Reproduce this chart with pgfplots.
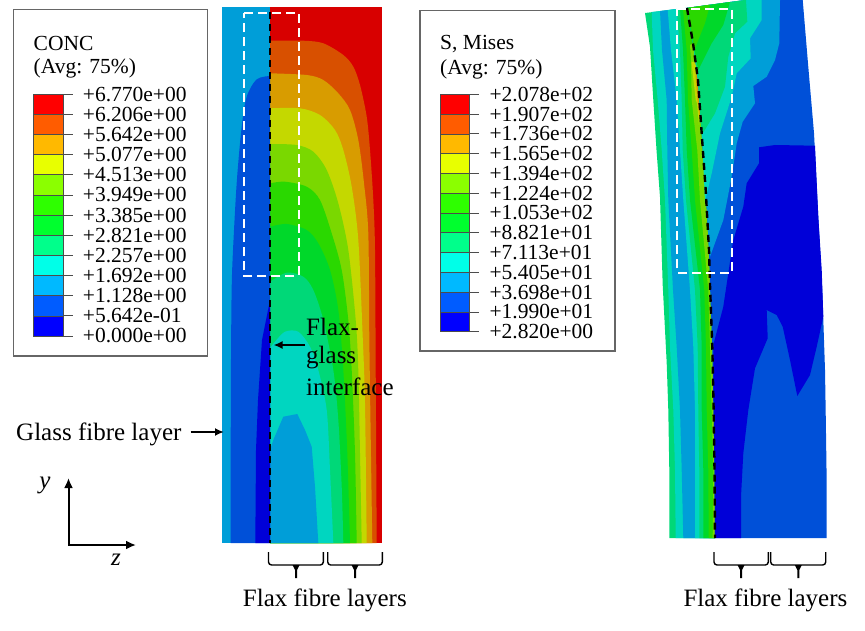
\documentclass[border=0pt]{standalone}
\usepackage{fontspec}
\setmainfont{Liberation Serif}
\usepackage{pgfplots}
\pgfplotsset{compat=1.18}
\usetikzlibrary{arrows.meta}

% plot colours (dimmed contour plots)
\definecolor{c1}{RGB}{0,0,216}
\definecolor{c2}{RGB}{0,80,216}
\definecolor{c3}{RGB}{0,158,216}
\definecolor{c4}{RGB}{0,214,192}
\definecolor{c5}{RGB}{0,216,120}
\definecolor{c6}{RGB}{0,216,42}
\definecolor{c7}{RGB}{42,216,0}
\definecolor{c8}{RGB}{122,216,0}
\definecolor{c9}{RGB}{196,216,0}
\definecolor{c10}{RGB}{216,156,0}
\definecolor{c11}{RGB}{216,80,0}
\definecolor{c12}{RGB}{216,0,0}
% legend colours
\definecolor{k1}{RGB}{0,0,255}
\definecolor{k2}{RGB}{0,92,255}
\definecolor{k3}{RGB}{0,185,255}
\definecolor{k4}{RGB}{0,255,232}
\definecolor{k5}{RGB}{0,255,139}
\definecolor{k6}{RGB}{0,255,46}
\definecolor{k7}{RGB}{46,255,0}
\definecolor{k8}{RGB}{139,255,0}
\definecolor{k9}{RGB}{232,255,0}
\definecolor{k10}{RGB}{255,185,0}
\definecolor{k11}{RGB}{255,92,0}
\definecolor{k12}{RGB}{255,0,0}

\newcommand{\poly}[2]{\addplot[fill=#1,draw=none] coordinates {#2} --cycle;}
% smooth edge, closed straight down the interface at x=270
\newcommand{\spoly}[2]{\addplot[fill=#1,draw=none,smooth,tension=0.5] coordinates {#2} -- (axis cs:270,543) --cycle;}
\newcommand{\swatch}[5]{\addplot[fill=#1,draw=black!70,line width=0.6pt] coordinates {(#2,#3)(#4,#3)(#4,#5)(#2,#5)} --cycle;}
\newcommand{\legfont}{\fontsize{21.5}{21.5}\selectfont}
\newcommand{\labfont}{\fontsize{25}{25}\selectfont}
\newcommand{\legrow}[4]{%
  \draw[black!70,line width=0.8pt] (axis cs:#1,#3)--(axis cs:#2,#3);
  \node[anchor=west,inner sep=0pt,font=\legfont] at (axis cs:#2+10,#3) {#4};}
\newcommand{\layerbrace}[3]{%
  \draw[line width=1.4pt,rounded corners=3pt] (axis cs:#1,552)--(axis cs:#1,565)--(axis cs:#2,565)--(axis cs:#2,552);
  \fill (axis cs:#3-3.5,565)--(axis cs:#3+3.5,565)--(axis cs:#3+1,570)--(axis cs:#3+1,578)--(axis cs:#3-1,578)--(axis cs:#3-1,570)--cycle;}

\begin{document}
\begin{tikzpicture}
\begin{axis}[
  width=865pt,height=631pt,scale only axis,
  hide axis,y dir=reverse,
  xmin=0,xmax=865,ymin=0,ymax=631,
  clip=false,
]
% keep the whole canvas in the page
\path (axis cs:0,0) rectangle (axis cs:865,631);
%% left contour, flax layers
\poly{c12}{(270,7)(382,7)(382,543)(270,543)}
\spoly{c11}{(270,40.7)(303.3,40.7)(323.3,43.3)(343.3,55)(353.3,66.7)(360,85)(366.7,116.7)(370,150)(373.3,200)(375,250)(375.7,370)(376.7,543)}
\spoly{c10}{(270,73.3)(306.7,75)(323.3,80)(338.3,93.3)(350,110)(358.3,140)(364,183.3)(368.3,233.3)(369.3,336.7)(370.7,436.7)(372.3,543)}
\spoly{c9}{(270,108.3)(300,108.3)(320,115)(335,130)(343.3,150)(351.7,186.7)(358.3,240)(362.7,336.7)(365,403.3)(366.7,543)}
\spoly{c8}{(270,144)(296.7,145)(313.3,151.7)(326.7,170)(338.3,203.3)(348.3,250)(355.7,320)(358.3,370)(360,453.3)(361.7,543)}
\spoly{c7}{(270,183.3)(285,181.7)(306.7,186.7)(320,200)(331.7,233.3)(341.7,270)(348.3,320)(351.7,370)(355,453.3)(356.7,543)}
\spoly{c6}{(270,226.7)(286.7,224)(306.7,230)(318.3,243.3)(330,270)(338.3,310)(343.3,370)(347.3,453.3)(350,543)}
\spoly{c5}{(270,281.7)(286.7,272.7)(303.3,276.7)(313.3,290)(323.3,320)(333.3,370)(338.3,420)(341.7,486.7)(343.3,543)}
\spoly{c4}{(270,348.3)(275,341.7)(285,331.7)(298.3,331.7)(310,346.7)(318.3,370)(326.7,410)(330,470)(333.3,543)}
\poly{c3}{(270,450)(273.3,440)(283.3,416.7)(297.3,414)(305,430)(311.7,446.7)(315,486.7)(318.3,543)(270,543)}
%% left contour, glass layer
\poly{c3}{(222,7)(270,7)(270,543)(222,543)}
\spoly{c2}{(270,76)(256.7,79.3)(246.7,96.7)(241.7,126.7)(236.7,183)(232.7,256.7)(231.5,300)(230.8,400)(230.7,543)}
\poly{c1}{(270,300)(262,340)(258,400)(256,450)(255.3,543)(270,543)}

%% right contour, left of the interface: strips laid over each other
\poly{c5}{(645,13)(678,9)(687,8)(693,43)(698,80)(702.5,145)(705.7,190)(709,250)(710,285)(712.3,347)(713.5,403)(714.5,470)(715,538)(669.3,538)(669.3,470)(668.3,410)(666.7,363)(662.7,285)(660,197)(656.5,150)(653.3,100)(650,47)}
\poly{c4}{(651.7,12)(687,8)(693,43)(698,80)(702.5,145)(705.7,190)(709,250)(710,285)(712.3,347)(713.5,403)(714.5,470)(715,538)(675.7,538)(675,470)(673.3,410)(670,347)(668.3,290)(665,200)(661.7,150)(657.7,100)(653,50)}
\poly{c3}{(660,11)(687,8)(693,43)(698,80)(702.5,145)(705.7,190)(709,250)(710,285)(712.3,347)(713.5,403)(714.5,470)(715,538)(683.3,538)(681.7,470)(680,410)(676.7,347)(673,290)(668.3,200)(667.3,150)(666.7,100)(662,50)}
\poly{c4}{(667.7,10)(687,8)(693,43)(698,80)(702.5,145)(705.7,190)(709,250)(710,285)(712.3,347)(713.5,403)(714.5,470)(715,538)(695,538)(695,470)(695,410)(693.3,347)(690,290)(683.3,200)(680,150)(676.7,100)(671,50)}
\poly{c5}{(676.7,9)(687,8)(693,43)(698,80)(702.5,145)(705.7,190)(709,250)(710,285)(712.3,347)(713.5,403)(714.5,470)(715,538)(699.3,538)(699.3,470)(698.3,410)(697.7,347)(695,290)(686,200)(682.7,150)(681.7,100)(680,50)}
\poly{c6}{(680,9)(687,8)(693,43)(698,80)(702.5,145)(705.7,190)(709,250)(710,285)(712.3,347)(713.5,403)(714.5,470)(715,538)(703.3,538)(703.3,470)(701.7,410)(701.7,347)(700,290)(690,200)(686.7,150)(685,100)(683,50)}
\poly{c7}{(683,9)(687,8)(693,43)(698,80)(702.5,145)(705.7,190)(709,250)(710,285)(712.3,347)(713.5,403)(714.5,470)(715,538)(708.7,538)(708.3,470)(706.7,410)(706,347)(704.3,290)(695,200)(691.7,150)(688,100)(686.7,50)}
\poly{c8}{(690,45)(693,43)(698,80)(702.5,145)(705.7,190)(709,250)(710,285)(712.3,347)(713.5,403)(714.5,470)(715,538)(712.7,538)(713.3,470)(711.7,410)(710,347)(708.3,290)(700,200)(697.3,150)(691.7,100)(691,60)}
\poly{c9}{(691.5,62)(697,62)(700,103)(699,125)(697,103)(695.7,100)}
\poly{c10}{(695.5,75)(697.5,75)(700,103)(699.5,118)(697.5,100)}

%% right contour, flax side
\poly{c2}{(687,8)(678,9)(745,0)(802.7,0)(808.3,67)(814,133)(818.3,217)(822.3,290)(825,370)(825.7,413)(826.7,483)(826.7,538)(715,538)(714.5,470)(713.5,403)(712.3,347)(710,285)(709,250)(705.7,190)(702.5,145)(698,80)(693,43)}
\poly{c1}{(815,145.7)(775,145)(759,147.3)(759,163.3)(746.7,183.3)(743.3,206.7)(733.3,240)(728.3,273.3)(723.3,306.7)(713.3,345)(713.5,403)(714.5,470)(715,538)(741,538)(741,496.7)(743.3,453.3)(748.3,410)(755,368.3)(767.7,338.3)(766.7,310)(776.7,315)(782.7,326.7)(790,360)(797.3,396)(810,375)(816.7,346.7)(823.3,316.7)(821.7,270)(818.3,217)}
\poly{c3}{(687,8)(745,0)(780,0)(779.3,43.3)(775,60)(766.7,76.7)(753.3,86)(755,103.3)(742.7,121.7)(736.7,143.3)(731.7,176.7)(723.3,220)(710,256.7)(709,250)(705.7,190)(702.5,145)(698,80)(693,43)}
\poly{c4}{(687,8)(745,0)(761.7,0)(761.7,20)(750,38.3)(750.7,58.3)(736.7,73.3)(731.7,96.7)(720,133.3)(711.7,173.3)(705,201.7)(702.5,145)(698,80)(693,43)}
\poly{c5}{(687,8)(745,0)(746,0)(747.3,21.7)(735,33.3)(728.3,56.7)(725,86.7)(715,113.3)(701.7,135)(698,80)(693,43)}
\poly{c6}{(687,8)(730,2)(723.3,25)(711.7,43.3)(698.3,70)(693,43)}
\poly{c7}{(687,8)(710,4.7)(705,23.3)(695,48.3)(693.5,43)}

%% interface lines and the white framed zones
\addplot[black,line width=2.4pt,dash pattern=on 7pt off 5pt] coordinates {(270,12)(270,543)};
\addplot[black,line width=2.4pt,dash pattern=on 7pt off 5pt] coordinates {(687,8)(693,43)(698,80)(702.5,145)(705.7,190)(709,250)(710,285)(712.3,347)(713.5,403)(714.5,470)(715,538)};
\addplot[white,line width=2pt,dash pattern=on 9pt off 5pt] coordinates {(244.3,12.7)(298.7,12.7)(298.7,276)(244.3,276)(244.3,12.7)};
\addplot[white,line width=2pt,dash pattern=on 9pt off 5pt] coordinates {(677.3,9)(732.3,9)(732.3,272.7)(677.3,272.7)(677.3,9)};

%% legend boxes
\addplot[draw=black!60,line width=1.1pt,fill=white] coordinates {(13.3,9.5)(207.3,9.5)(207.3,356)(13.3,356)} --cycle;
\addplot[draw=black!60,line width=1.1pt,fill=white] coordinates {(420,10.7)(615,10.7)(615,351)(420,351)} --cycle;

\swatch{k12}{33.3}{94.3}{63.3}{114.4}
\swatch{k11}{33.3}{114.4}{63.3}{134.5}
\swatch{k10}{33.3}{134.5}{63.3}{154.7}
\swatch{k9}{33.3}{154.7}{63.3}{174.8}
\swatch{k8}{33.3}{174.8}{63.3}{195}
\swatch{k7}{33.3}{195}{63.3}{215.2}
\swatch{k6}{33.3}{215.2}{63.3}{235.3}
\swatch{k5}{33.3}{235.3}{63.3}{255.4}
\swatch{k4}{33.3}{255.4}{63.3}{275.5}
\swatch{k3}{33.3}{275.5}{63.3}{295.7}
\swatch{k2}{33.3}{295.7}{63.3}{315.8}
\swatch{k1}{33.3}{315.8}{63.3}{336}

\swatch{k12}{440}{94.3}{469.3}{114.1}
\swatch{k11}{440}{114.1}{469.3}{133.9}
\swatch{k10}{440}{133.9}{469.3}{153.7}
\swatch{k9}{440}{153.7}{469.3}{173.5}
\swatch{k8}{440}{173.5}{469.3}{193.2}
\swatch{k7}{440}{193.2}{469.3}{213}
\swatch{k6}{440}{213}{469.3}{232.8}
\swatch{k5}{440}{232.8}{469.3}{252.6}
\swatch{k4}{440}{252.6}{469.3}{272.4}
\swatch{k3}{440}{272.4}{469.3}{292.2}
\swatch{k2}{440}{292.2}{469.3}{312}
\swatch{k1}{440}{312}{469.3}{331.7}

\node[anchor=west,inner sep=0pt,font=\legfont] at (axis cs:33.5,43) {CONC};
\node[anchor=west,inner sep=0pt,font=\legfont] at (axis cs:33.5,68) {(Avg: 75\%)};
\legrow{63.3}{72.7}{94.3}{+6.770e+00}
\legrow{63.3}{72.7}{114.4}{+6.206e+00}
\legrow{63.3}{72.7}{134.5}{+5.642e+00}
\legrow{63.3}{72.7}{154.7}{+5.077e+00}
\legrow{63.3}{72.7}{174.8}{+4.513e+00}
\legrow{63.3}{72.7}{195}{+3.949e+00}
\legrow{63.3}{72.7}{215.2}{+3.385e+00}
\legrow{63.3}{72.7}{235.3}{+2.821e+00}
\legrow{63.3}{72.7}{255.4}{+2.257e+00}
\legrow{63.3}{72.7}{275.5}{+1.692e+00}
\legrow{63.3}{72.7}{295.7}{+1.128e+00}
\legrow{63.3}{72.7}{315.8}{+5.642e-01}
\legrow{63.3}{72.7}{336}{+0.000e+00}

\node[anchor=west,inner sep=0pt,font=\legfont] at (axis cs:440,44) {S, Mises};
\node[anchor=west,inner sep=0pt,font=\legfont] at (axis cs:440,69) {(Avg: 75\%)};
\legrow{469.3}{479.3}{94.3}{+2.078e+02}
\legrow{469.3}{479.3}{114.1}{+1.907e+02}
\legrow{469.3}{479.3}{133.9}{+1.736e+02}
\legrow{469.3}{479.3}{153.7}{+1.565e+02}
\legrow{469.3}{479.3}{173.5}{+1.394e+02}
\legrow{469.3}{479.3}{193.2}{+1.224e+02}
\legrow{469.3}{479.3}{213}{+1.053e+02}
\legrow{469.3}{479.3}{232.8}{+8.821e+01}
\legrow{469.3}{479.3}{252.6}{+7.113e+01}
\legrow{469.3}{479.3}{272.4}{+5.405e+01}
\legrow{469.3}{479.3}{292.2}{+3.698e+01}
\legrow{469.3}{479.3}{312}{+1.990e+01}
\legrow{469.3}{479.3}{331.7}{+2.820e+00}

%% annotations
\node[anchor=west,inner sep=0pt,font=\labfont] at (axis cs:306,326.7) {Flax-};
\node[anchor=west,inner sep=0pt,font=\labfont] at (axis cs:306,358) {glass};
\node[anchor=west,inner sep=0pt,font=\labfont] at (axis cs:306,386.7) {interface};
\draw[line width=1.8pt,-{Latex[length=9pt,width=8pt]}] (axis cs:305,345)--(axis cs:273.5,345);
\node[anchor=west,inner sep=0pt,font=\labfont] at (axis cs:16,434) {Glass fibre layer};
\draw[line width=1.8pt,-{Latex[length=9pt,width=8pt]}] (axis cs:190.7,432)--(axis cs:224,432);

\draw[line width=2pt,{Latex[length=10pt,width=9pt]}-{Latex[length=10pt,width=9pt]}] (axis cs:68.5,478)--(axis cs:68.5,545)--(axis cs:136,545);
\node[inner sep=0pt,font=\labfont\itshape] at (axis cs:45,485) {y};
\node[inner sep=0pt,font=\labfont\itshape] at (axis cs:116,560) {z};

\layerbrace{268.5}{323.3}{296}
\layerbrace{327.7}{382.3}{355}
\layerbrace{714}{768.3}{741}
\layerbrace{770.7}{825.7}{798.3}
\node[anchor=west,inner sep=0pt,font=\labfont] at (axis cs:242.7,600.5) {Flax fibre layers};
\node[anchor=west,inner sep=0pt,font=\labfont] at (axis cs:683.3,600) {Flax fibre layers};
\end{axis}
\end{tikzpicture}
\end{document}
